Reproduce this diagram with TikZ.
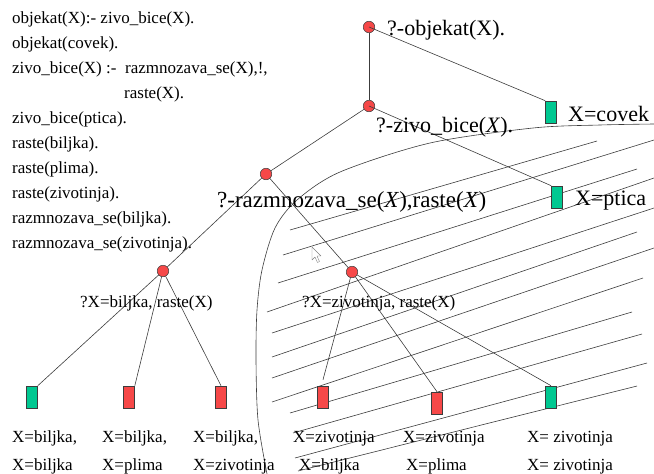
\documentclass[tikz,border=0pt]{standalone}
\usepackage{fontspec}
\setmainfont{Liberation Serif}
\usepackage{tikz}
\definecolor{goalred}{RGB}{246,72,72}
\definecolor{yesgreen}{RGB}{0,200,145}
\definecolor{edgegray}{RGB}{60,60,60}
\tikzset{
  goal/.style={circle,draw=edgegray,fill=goalred,line width=0.5pt,minimum size=11.5pt,inner sep=0pt},
  leafbox/.style={rectangle,draw=edgegray,line width=0.6pt,minimum width=11pt,minimum height=22pt,inner sep=0pt},
  yesleaf/.style={leafbox,fill=yesgreen},
  noleaf/.style={leafbox,fill=goalred},
  edge/.style={line width=0.6pt,draw=edgegray},
  hatch/.style={line width=0.6pt,draw=edgegray}
}

\begin{document}
\begin{tikzpicture}[
  x=1pt,y=-1pt,
  code/.style={font=\fontsize{17}{20}\selectfont,anchor=base west,inner sep=0pt},
  biglab/.style={font=\fontsize{22}{26}\selectfont,anchor=base west,inner sep=0pt},
  lab/.style={font=\fontsize{17}{20}\selectfont,anchor=base west,inner sep=0pt},
  pointer/.style={fill=white,draw=gray,line width=0.4pt,line join=round}
]
\useasboundingbox (0,0) rectangle (654,474);

\foreach \n/\y/\txt in {c1/23/{objekat(X):- zivo\_bice(X).},
    c2/48/{objekat(covek).},
    c5/123/{zivo\_bice(ptica).},
    c6/148/{raste(biljka).},
    c7/173/{raste(plima).},
    c8/198/{raste(zivotinja).},
    c9/223/{razmnozava\_se(biljka).},
    c10/248/{razmnozava\_se(zivotinja).}}{
  \node[code] (\n) at (12,\y) {\txt};
}
\node[code] (c3) at (12,73) {zivo\_bice(X) :-};
\node[code] (c3b) at (125,73) {razmnozava\_se(X),!,};
\node[code] (c4) at (124,98) {raste(X).};

\draw[hatch] plot[smooth] coordinates {(267,474) (258,420) (256,360) (257,310)
  (262,270) (275,228) (297,200) (340,172) (430,143) (533,128) (600,125) (654,124)};

\foreach \xa/\ya/\xb/\yb in {290/230/597/141, 283/255/654/140, 278/283/637/169,
    267/312/654/178, 272/333/654/208, 272/357/637/232, 272/378/654/248,
    272/402/643/278, 290/413/632/312, 293/433/642/334, 295/458/647/363,
    298/471/637/386}{
  \draw[hatch] (\xa,\ya) -- (\xb,\yb);
}

\draw[pointer] (312,247) -- (312,260) -- (315,257) -- (317.5,262.5)
  -- (319.5,261.5) -- (317,256) -- (321,256) -- cycle;

\node[goal] (g0) at (369,27) {};
\node[goal] (g1) at (369,106) {};
\node[goal] (g2) at (266,174) {};
\node[goal] (g3) at (163,271) {};
\node[goal] (g4) at (352,272) {};

\node[yesleaf] (covek) at (551,112) {};
\node[yesleaf] (ptica) at (557,197) {};
\node[yesleaf] (l1) at (32,397) {};
\node[noleaf] (l2) at (129,397) {};
\node[noleaf] (l3) at (221,397) {};
\node[noleaf] (l4) at (323,397) {};
\node[noleaf] (l5) at (437,403) {};
\node[yesleaf] (l6) at (551,397) {};

\draw[edge] (g0) -- (g1);
\draw[edge] (g0.center) -- (covek.north west);
\draw[edge] (g1) -- (g2);
\draw[edge] (g1.center) -- (ptica.north west);
\draw[edge] (g2) -- (g3);
\draw[edge] (g2) -- (g4);
\draw[edge] (g3) -- (l1.north east);
\draw[edge] (g3) -- (l2.north east);
\draw[edge] (g3) -- (l3.north);
\draw[edge] (g4) -- ([yshift=6pt]l4.north);
\draw[edge] (g4) -- (l5.north);
\draw[edge] (g4) -- (l6.north);

\node[biglab] (t0) at (387,35) {?-objekat(X).};
\node[biglab] (t1) at (376,132) {?-zivo\_bice(\textit{X}).};
\node[biglab,font=\fontsize{23}{27}\selectfont] (t2) at (217,207) {?-razmnozava\_se(\textit{X}),raste(\textit{X})};
\node[biglab] (tc) at (568,121) {X=covek};
\node[biglab] (tp) at (575,205) {X=ptica};
\node[lab] (t3) at (80,307) {?X=biljka, raste(X)};
\node[lab] (t4) at (302,307) {?X=zivotinja, raste(X)};

\foreach \n/\x/\txt in {a1/12/{X=biljka,}, a2/102/{X=biljka,}, a3/193/{X=biljka,},
    a4/293/{X=zivotinja}, a5/403/{X=zivotinja}, a6/527/{X= zivotinja}}{
  \node[lab] (\n) at (\x,442) {\txt};
}
\foreach \n/\x/\txt in {b1/12/{X=biljka}, b2/102/{X=plima}, b3/193/{X=zivotinja},
    b4/299/{X=biljka}, b5/406/{X=plima}, b6/527/{X= zivotinja}}{
  \node[lab] (\n) at (\x,470) {\txt};
}

\end{tikzpicture}
\end{document}
